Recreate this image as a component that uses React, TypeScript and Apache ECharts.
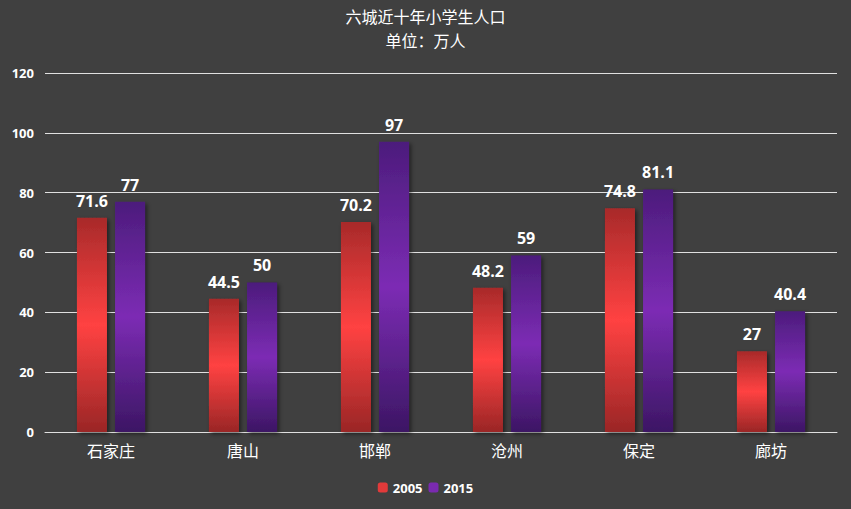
import React, { useEffect, useRef } from "react";
import * as echarts from "echarts";

const categories = ["石家庄", "唐山", "邯郸", "沧州", "保定", "廊坊"];
const values2005 = [71.6, 44.5, 70.2, 48.2, 74.8, 27];
const values2015 = [77, 50, 97, 59, 81.1, 40.4];
const seriesNames = ["2005", "2015"];
const titleLines = ["六城近十年小学生人口", "单位：万人"];

export default function App() {
  const ref = useRef<HTMLDivElement>(null);
  useEffect(() => {
    const chart = echarts.init(ref.current!, undefined, { renderer: "svg" });
    const redGrad = new echarts.graphic.LinearGradient(0, 0, 0, 1, [
      { offset: 0, color: "#a82a2a" },
      { offset: 0.5, color: "#ff4242" },
      { offset: 1, color: "#9a2626" },
    ]);
    const purpleGrad = new echarts.graphic.LinearGradient(0, 0, 0, 1, [
      { offset: 0, color: "#4c1c7c" },
      { offset: 0.5, color: "#7c2cb4" },
      { offset: 1, color: "#3c1664" },
    ]);
    const labelStyle = {
      show: true,
      position: "top" as const,
      distance: 9,
      color: "#ffffff",
      fontSize: 16,
      fontWeight: "bold" as const,
      fontFamily: "'Open Sans', 'Noto Sans', sans-serif",
    };
    const titleFont = {
      color: "#ffffff",
      fontSize: 16,
      lineHeight: 20,
      fontWeight: "normal" as const,
      fontFamily: "'Noto Sans CJK SC', sans-serif",
    };
    chart.setOption({
      animation: false,
      backgroundColor: "#404040",
      title: [
        { text: titleLines[0], left: "center", top: 6, padding: 0, textStyle: titleFont },
        { text: titleLines[1], left: "center", top: 30, padding: 0, textStyle: titleFont },
      ],
      legend: {
        bottom: 10,
        left: "center",
        itemWidth: 10,
        itemHeight: 10,
        itemGap: 6,
        icon: "roundRect",
        textStyle: {
          color: "#ffffff",
          fontSize: 13,
          fontWeight: "bold",
          fontFamily: "'Open Sans', 'Noto Sans', sans-serif",
        },
        data: [
          { name: seriesNames[0], itemStyle: { color: "#e23a3a" } },
          { name: seriesNames[1], itemStyle: { color: "#7a2ab0" } },
        ],
      },
      grid: { left: 45, right: 14, top: 73, bottom: 77 },
      xAxis: {
        type: "category",
        data: categories,
        axisLine: { lineStyle: { color: "#e0e0e0", width: 1 } },
        axisTick: { show: false },
        axisLabel: {
          color: "#ffffff",
          fontSize: 16,
          margin: 10,
          fontFamily: "'Noto Sans CJK SC', sans-serif",
        },
      },
      yAxis: {
        type: "value",
        min: 0,
        max: 120,
        interval: 20,
        axisLine: { show: false },
        axisTick: { show: false },
        splitLine: { lineStyle: { color: "#e0e0e0", width: 1 } },
        axisLabel: {
          color: "#ffffff",
          fontSize: 13,
          fontWeight: "bold",
          margin: 11,
          fontFamily: "'Open Sans', 'Noto Sans', sans-serif",
        },
      },
      series: [
        {
          name: seriesNames[0],
          type: "bar",
          data: values2005,
          barWidth: 30,
          barGap: "27%",
          itemStyle: {
            color: redGrad,
            shadowColor: "rgba(0,0,0,0.5)",
            shadowBlur: 4,
            shadowOffsetX: 2,
            shadowOffsetY: 2,
          },
          label: labelStyle,
        },
        {
          name: seriesNames[1],
          type: "bar",
          data: values2015,
          barWidth: 30,
          barGap: "27%",
          itemStyle: {
            color: purpleGrad,
            shadowColor: "rgba(0,0,0,0.5)",
            shadowBlur: 4,
            shadowOffsetX: 2,
            shadowOffsetY: 2,
          },
          label: labelStyle,
        },
      ],
    });
    return () => chart.dispose();
  }, []);
  return <div ref={ref} style={{ width: 851, height: 509, position: "fixed", left: 0, top: 0 }} />;
}
